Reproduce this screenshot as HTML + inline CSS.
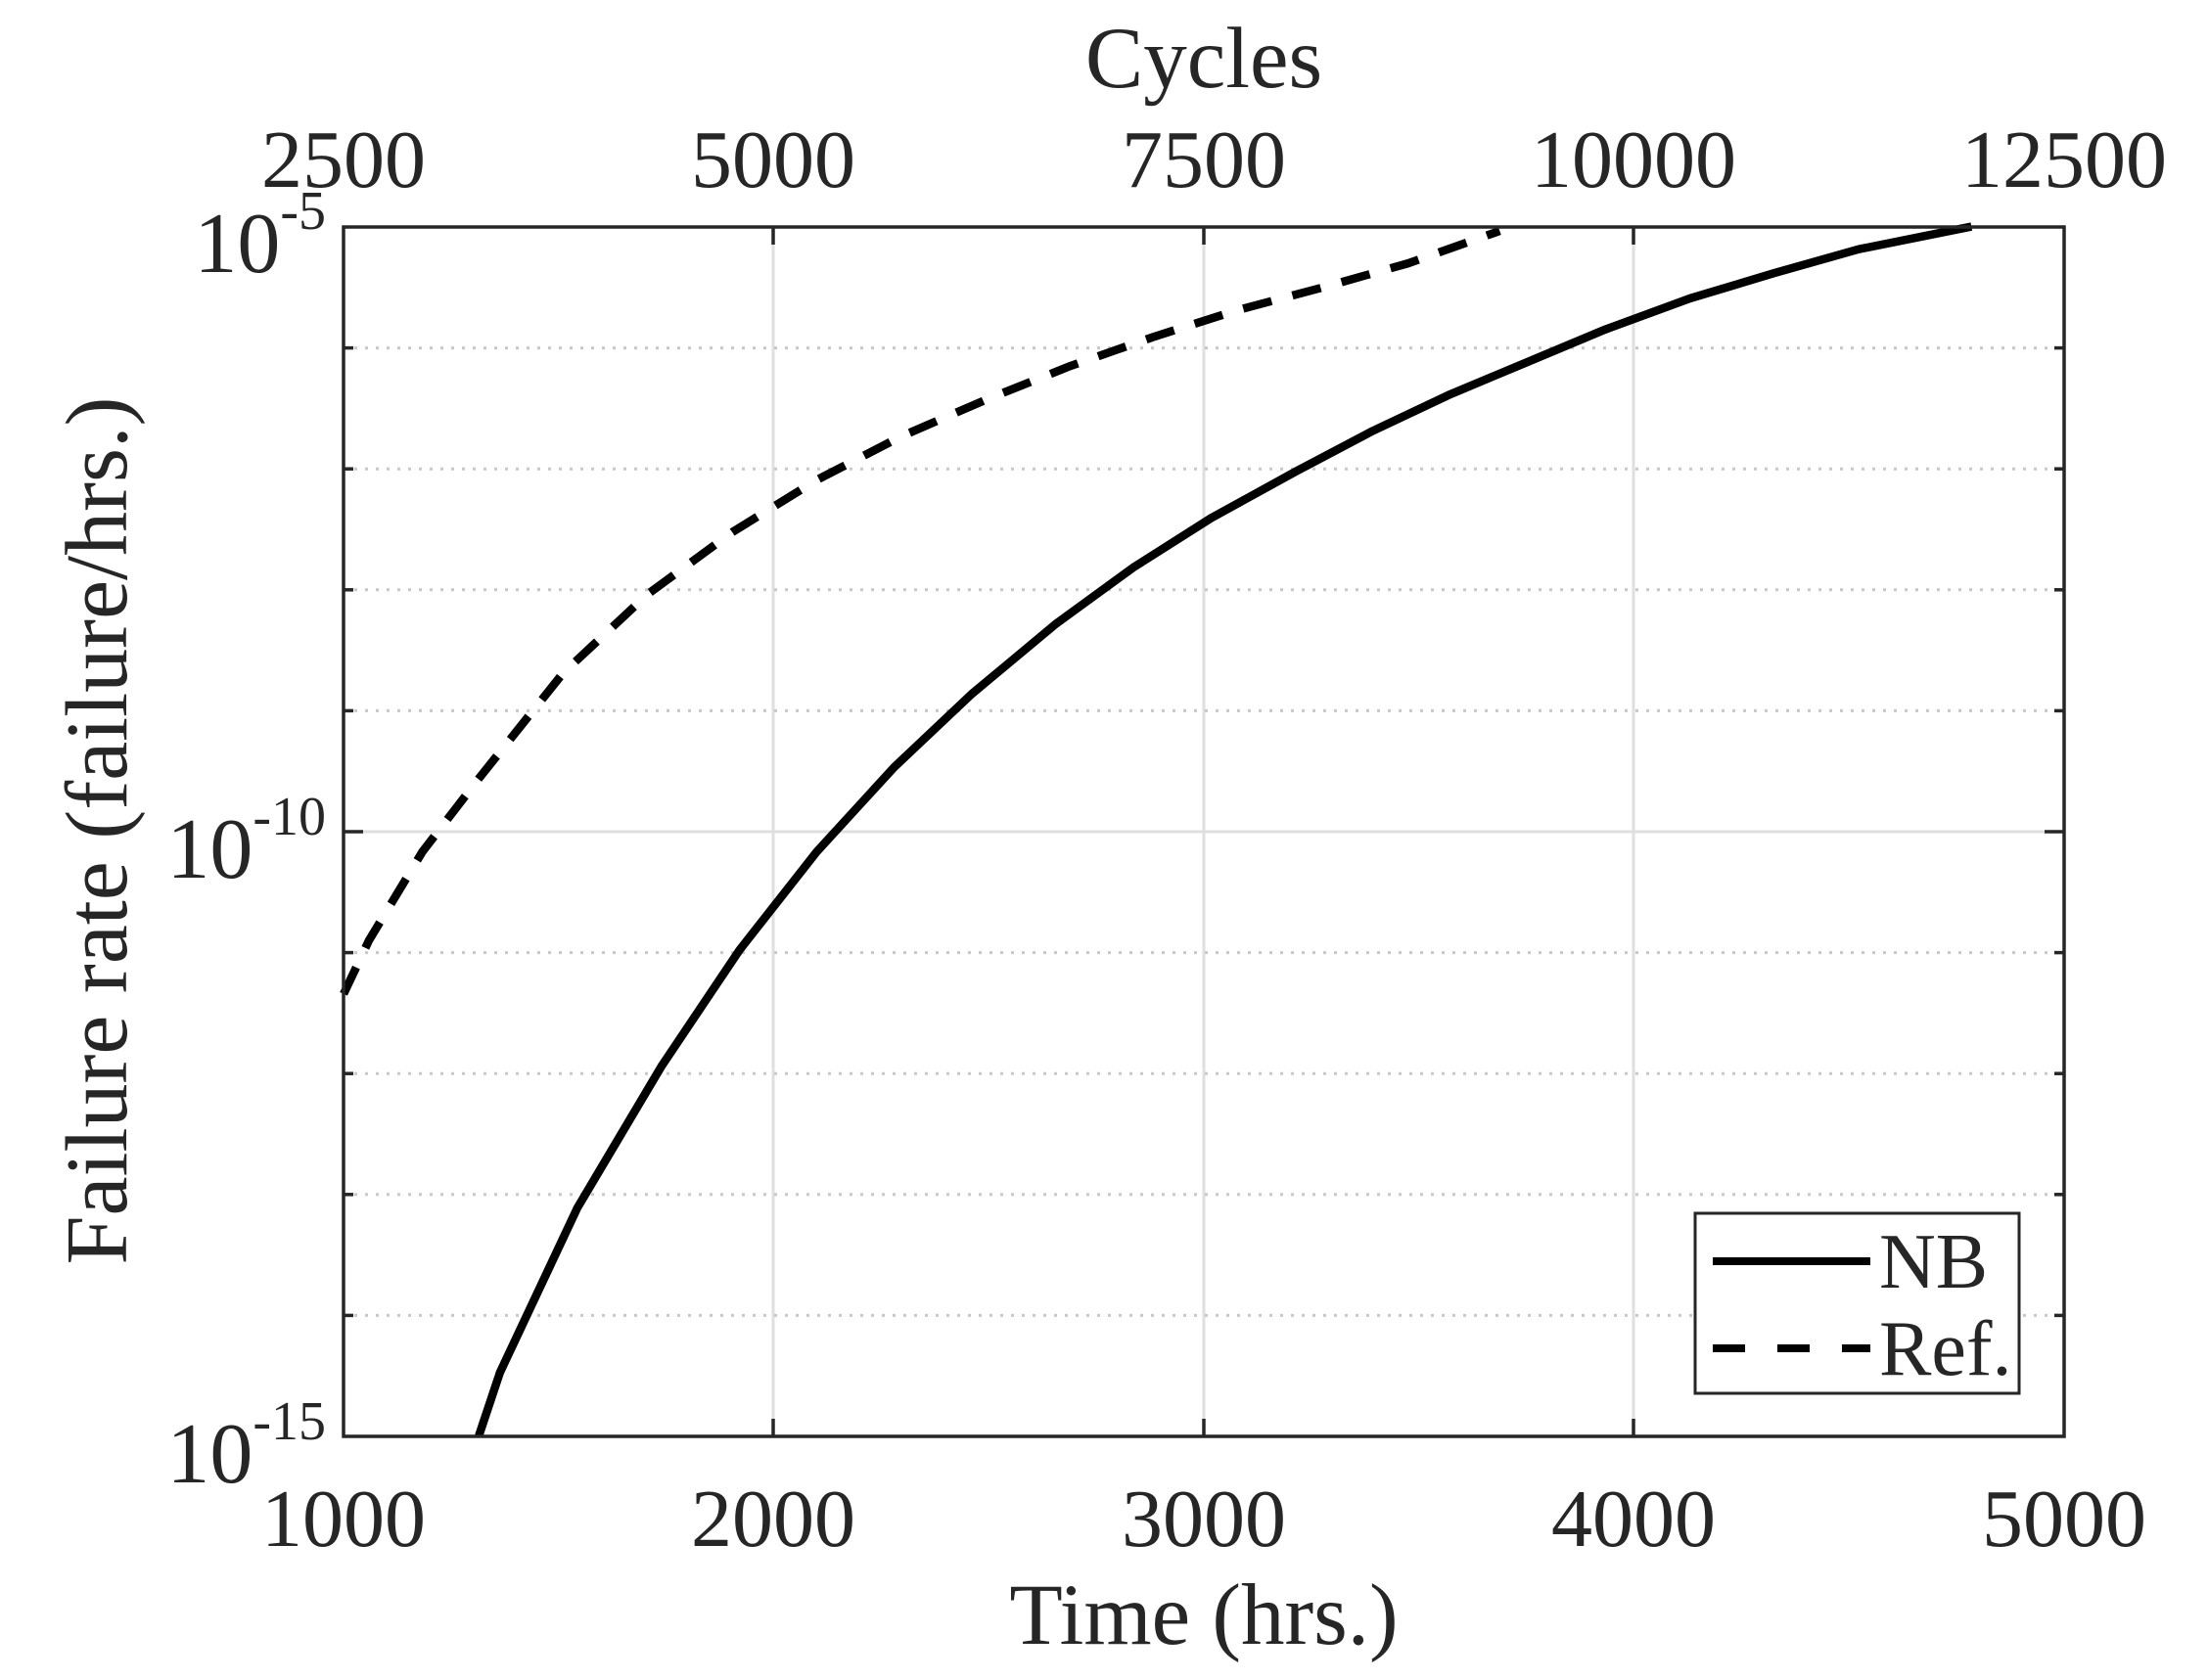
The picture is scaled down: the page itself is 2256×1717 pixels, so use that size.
<!DOCTYPE html>
<html><head><meta charset="utf-8"><style>
html,body{margin:0;padding:0;background:#fff;}
svg{display:block;}
text{font-family:"Liberation Serif",serif;fill:#262626;}
</style></head><body>
<svg id="s" width="2256" height="1717" viewBox="0 0 2256 1717" xmlns="http://www.w3.org/2000/svg">
<rect width="2256" height="1717" fill="#fff"/>
<g id="grid"></g>
<g id="curves"></g>
<rect x="351" y="232" width="1758" height="1236" fill="none" stroke="#262626" stroke-width="3.5"/>
<g id="ticks" stroke="#262626" stroke-width="3.5"></g>
<g font-size="84" text-anchor="middle">
<text x="351" y="1580">1000</text><text x="790" y="1580">2000</text><text x="1230" y="1580">3000</text><text x="1669" y="1580">4000</text><text x="2109" y="1580">5000</text>
<text x="351" y="191">2500</text><text x="790" y="191">5000</text><text x="1230" y="191">7500</text><text x="1669" y="191">10000</text><text x="2109" y="191">12500</text>
<text x="1230" y="1680" font-size="89">Time (hrs.)</text>
<text x="1230" y="89" font-size="89">Cycles</text>
<text transform="translate(129,849) rotate(-90)" x="0" y="0" font-size="90">Failure rate (failure/hrs.)</text>
</g>
<g font-size="88" text-anchor="end">
<text x="333" y="278">10<tspan font-size="56" dy="-44">-5</tspan></text>
<text x="333" y="897">10<tspan font-size="56" dy="-44">-10</tspan></text>
<text x="333" y="1515">10<tspan font-size="56" dy="-44">-15</tspan></text>
</g>
<rect x="1732" y="1240" width="331" height="184" fill="#fff" stroke="#262626" stroke-width="3"/>
<line x1="1750" y1="1289" x2="1911" y2="1289" stroke="#000" stroke-width="8"/>
<line x1="1750" y1="1378" x2="1911" y2="1378" stroke="#000" stroke-width="8" stroke-dasharray="33,33"/>
<text x="1920" y="1316" font-size="80">NB</text>
<text x="1920" y="1405" font-size="80">Ref.</text>
</svg>
<script>
var NS="http://www.w3.org/2000/svg",k=1.4388;
function el(p,t,a){var e=document.createElementNS(NS,t);for(var q in a)e.setAttribute(q,a[q]);document.getElementById(p).appendChild(e);return e;}
var L=351,R=2109,T=232,B=1468;
[790,1230,1669].forEach(function(x){el("grid","line",{x1:x,y1:T,x2:x,y2:B,stroke:"#dfdfdf","stroke-width":3});
el("ticks","line",{x1:x,y1:B,x2:x,y2:B-18});el("ticks","line",{x1:x,y1:T,x2:x,y2:T+18});});
for(var d=1;d<10;d++){var y=T+d*123.6;
if(d==5){el("grid","line",{x1:L,y1:y,x2:R,y2:y,stroke:"#dfdfdf","stroke-width":3});el("ticks","line",{x1:L,y1:y,x2:L+20,y2:y});el("ticks","line",{x1:R,y1:y,x2:R-20,y2:y});}
else{el("grid","line",{x1:L,y1:y,x2:R,y2:y,stroke:"#c8c8c8","stroke-width":3,"stroke-dasharray":"3,8"});el("ticks","line",{x1:L,y1:y,x2:L+10,y2:y});el("ticks","line",{x1:R,y1:y,x2:R-10,y2:y});}}
function path(pts,dash){var d=pts.map(function(p,i){return (i?"L":"M")+(p[0]*k).toFixed(1)+","+(p[1]*k).toFixed(1);}).join(" ");
var a={d:d,fill:"none",stroke:"#000","stroke-width":8.5,"stroke-linejoin":"round"};if(dash)a["stroke-dasharray"]=dash;el("curves","path",a);}
path([[340,1020],[355,975],[410,858],[470,757],[525,675],[580,605],[635,545],[690,493],[750,443],[805,403],[860,368],[920,335],[975,306],[1030,280],[1085,257],[1140,234],[1200,212],[1260,194],[1320,177],[1400,161]]);
path([[244,706],[262,668],[300,605],[340,553],[400,478],[460,422],[520,378],[580,341],[640,310],[700,284],[760,260],[820,239],[880,220],[940,204],[1000,187],[1065,164]],"30,22");
</script>
</body></html>
